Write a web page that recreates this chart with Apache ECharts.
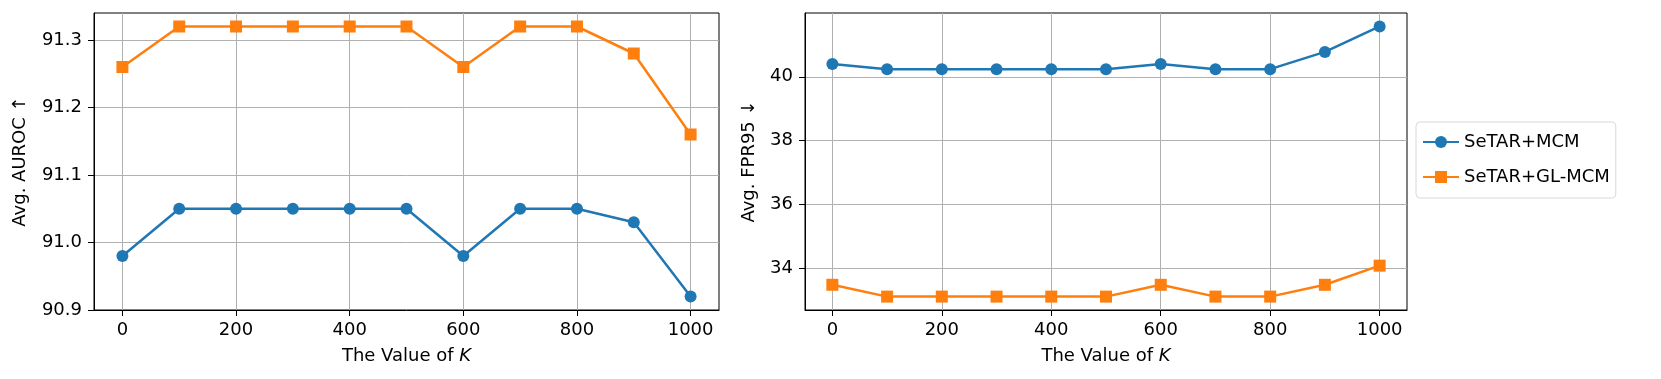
<!DOCTYPE html>
<html>
<head>
    <meta charset="utf-8">
    <title>ECharts</title>
    <style>
        html,body{width:100%;height:100%;overflow:hidden;padding:0;margin:0;background:#fff;}
        #main{width:1661px;height:379px;}
    </style>
    <script src="https://cdn.jsdelivr.net/npm/echarts@6/dist/echarts.min.js"></script>
</head>
<body>
<div id="main"></div>
<script type="text/javascript">
    // data
    var kValues = [0, 100, 200, 300, 400, 500, 600, 700, 800, 900, 1000];
    var aurocMCM   = [90.98, 91.05, 91.05, 91.05, 91.05, 91.05, 90.98, 91.05, 91.05, 91.03, 90.92];
    var aurocGLMCM = [91.26, 91.32, 91.32, 91.32, 91.32, 91.32, 91.26, 91.32, 91.32, 91.28, 91.16];
    var fprMCM     = [40.40, 40.24, 40.24, 40.24, 40.24, 40.24, 40.40, 40.24, 40.24, 40.78, 41.58];
    var fprGLMCM   = [33.48, 33.11, 33.11, 33.11, 33.11, 33.11, 33.48, 33.11, 33.11, 33.48, 34.08];
    var xTicks = [0, 200, 400, 600, 800, 1000];
    var aurocTicks = [90.9, 91.0, 91.1, 91.2, 91.3];
    var fprTicks = [34, 36, 38, 40];

    var BLUE = '#1f77b4', ORANGE = '#ff7f0e';
    var FONT = 'DejaVu Sans';
    var FS = 18;

    function pairs(ys) {
        return kValues.map(function (k, i) { return [k, ys[i]]; });
    }

    function xAxis(idx) {
        return {
            type: 'value', gridIndex: idx, min: -50, max: 1050,
            name: '{n|The Value of }{k|K}', nameLocation: 'middle', nameGap: 37,
            nameTextStyle: {rich: {
                n: {fontFamily: FONT, fontSize: FS, color: '#000'},
                k: {fontFamily: FONT, fontSize: FS, color: '#000', fontStyle: 'italic'}
            }},
            axisLine: {show: true, onZero: false, lineStyle: {color: '#000', width: 1}},
            axisTick: {show: true, length: 6, customValues: xTicks, lineStyle: {color: '#000'}},
            axisLabel: {customValues: xTicks, margin: 11, fontFamily: FONT, fontSize: FS, color: '#000',
                formatter: function (v) { return String(v); }},
            splitLine: {show: true, lineStyle: {color: '#b0b0b0', width: 1}}
        };
    }

    function yAxis(idx, min, max, ticks, name, gap, digits) {
        return {
            type: 'value', gridIndex: idx, min: min, max: max,
            name: name, nameLocation: 'middle', nameGap: gap,
            nameTextStyle: {fontFamily: FONT, fontSize: FS, color: '#000'},
            axisLine: {show: true, onZero: false, lineStyle: {color: '#000', width: 1}},
            axisTick: {show: true, length: 6, customValues: ticks, lineStyle: {color: '#000'}},
            axisLabel: {customValues: ticks, margin: 12, fontFamily: FONT, fontSize: FS, color: '#000',
                formatter: function (v) { return v.toFixed(digits); }},
            splitLine: {show: true, lineStyle: {color: '#b0b0b0', width: 1}}
        };
    }

    function line(name, data, color, symbol, idx) {
        return {
            name: name, type: 'line', xAxisIndex: idx, yAxisIndex: idx,
            data: pairs(data), symbol: symbol, symbolSize: 12, showAllSymbol: true,
            lineStyle: {color: color, width: 2.5}, itemStyle: {color: color},
            emphasis: {disabled: true}, animation: false, z: 3
        };
    }

    var myChart = echarts.init(document.getElementById('main'), null, {renderer: 'canvas'});
    myChart.setOption({
        animation: false,
        grid: [
            {left: 94, top: 13, width: 625, height: 297, show: true, borderColor: '#000', borderWidth: 1},
            {left: 805, top: 13, width: 602, height: 297, show: true, borderColor: '#000', borderWidth: 1}
        ],
        xAxis: [xAxis(0), xAxis(1)],
        yAxis: [
            yAxis(0, 90.9, 91.34, aurocTicks, 'Avg. AUROC ↑', 65, 1),
            yAxis(1, 32.69, 42.0, fprTicks, 'Avg. FPR95 ↓', 47, 0)
        ],
        legend: {
            orient: 'vertical', left: 1416, top: 122,
            data: ['SeTAR+MCM', 'SeTAR+GL-MCM'],
            itemWidth: 36, itemHeight: 15, itemGap: 17,
            padding: [11, 6, 12, 6],
            borderColor: '#d8d8d8', borderWidth: 1, borderRadius: 4,
            textStyle: {fontFamily: FONT, fontSize: FS, color: '#000'}
        },
        series: [
            line('SeTAR+MCM', aurocMCM, BLUE, 'circle', 0),
            line('SeTAR+GL-MCM', aurocGLMCM, ORANGE, 'rect', 0),
            line('SeTAR+MCM', fprMCM, BLUE, 'circle', 1),
            line('SeTAR+GL-MCM', fprGLMCM, ORANGE, 'rect', 1)
        ]
    });
</script>
</body>
</html>
